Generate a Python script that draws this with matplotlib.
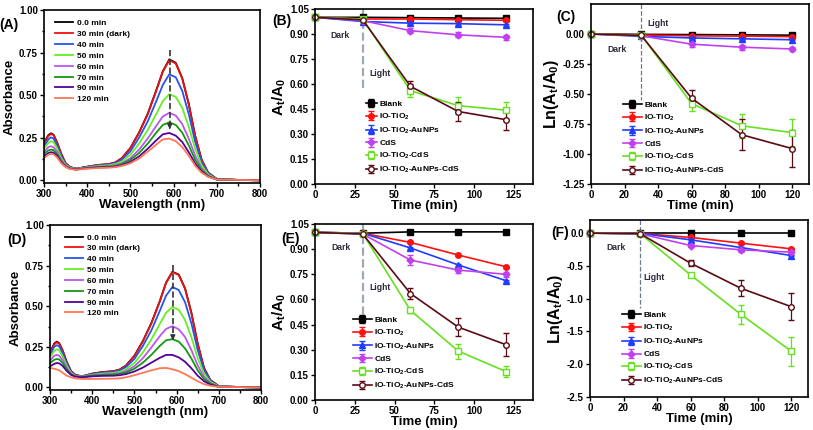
"""Photocatalytic degradation figure: absorption spectra (A, D),
A_t/A_0 vs time (B, E) and Ln(A_t/A_0) vs time (C, F)
"""

import matplotlib.pyplot as plt

plt.rcParams['font.family'] = ['Liberation Sans', 'DejaVu Sans']
plt.rcParams['font.weight'] = 'bold'
plt.rcParams['axes.labelweight'] = 'bold'
plt.rcParams['axes.unicode_minus'] = False
plt.rcParams['mathtext.fontset'] = 'custom'
plt.rcParams['mathtext.rm'] = 'Liberation Sans:bold'
plt.rcParams['mathtext.it'] = 'Liberation Sans:bold'
plt.rcParams['mathtext.bf'] = 'Liberation Sans:bold'

W, H = 813, 430

# ---- spectra (A) and (D) ----
wl = [300, 310, 316, 322, 330, 340, 350, 360, 375, 400, 425, 450, 465, 480, 500,
      520, 540, 560, 575, 590, 605, 620, 635, 650, 665, 680, 700, 750, 800]
spec_labels = ['0.0 min', '30 min (dark)', '40 min', '50 min', '60 min',
               '70 min', '90 min', '120 min']
spec_colors = ['#000000', '#ee1111', '#2255ee', '#66ee22', '#bb55ee',
               '#119911', '#550099', '#ff7755']

a_00 = [0.22, 0.265, 0.276, 0.268, 0.225, 0.155, 0.10, 0.078, 0.068, 0.08, 0.09, 0.095, 0.105, 0.13, 0.19,
        0.28, 0.39, 0.53, 0.64, 0.71, 0.69, 0.60, 0.45, 0.26, 0.12, 0.045, 0.008, 0.002, 0.0]
a_30 = [0.215, 0.26, 0.272, 0.265, 0.222, 0.152, 0.10, 0.077, 0.068, 0.08, 0.09, 0.095, 0.104, 0.128, 0.188,
        0.278, 0.387, 0.527, 0.637, 0.705, 0.686, 0.597, 0.447, 0.258, 0.118, 0.044, 0.008, 0.002, 0.0]
a_40 = [0.2, 0.24, 0.252, 0.245, 0.205, 0.14, 0.095, 0.075, 0.067, 0.078, 0.087, 0.092, 0.1, 0.12, 0.17,
        0.25, 0.345, 0.465, 0.56, 0.622, 0.605, 0.525, 0.39, 0.225, 0.105, 0.04, 0.007, 0.002, 0.0]
a_50 = [0.185, 0.22, 0.23, 0.224, 0.19, 0.13, 0.09, 0.073, 0.066, 0.076, 0.084, 0.088, 0.095, 0.11, 0.15,
        0.215, 0.295, 0.39, 0.465, 0.505, 0.49, 0.425, 0.315, 0.185, 0.088, 0.035, 0.006, 0.002, 0.0]
a_60 = [0.165, 0.195, 0.2, 0.195, 0.17, 0.12, 0.085, 0.07, 0.065, 0.074, 0.08, 0.083, 0.088, 0.1, 0.13,
        0.18, 0.245, 0.32, 0.375, 0.396, 0.38, 0.33, 0.245, 0.145, 0.07, 0.028, 0.005, 0.002, 0.0]
a_70 = [0.155, 0.175, 0.18, 0.177, 0.155, 0.112, 0.082, 0.069, 0.064, 0.072, 0.078, 0.08, 0.084, 0.094, 0.12,
        0.16, 0.215, 0.28, 0.325, 0.34, 0.325, 0.28, 0.205, 0.12, 0.06, 0.025, 0.005, 0.002, 0.0]
a_90 = [0.14, 0.16, 0.165, 0.162, 0.145, 0.105, 0.08, 0.068, 0.063, 0.07, 0.075, 0.077, 0.08, 0.088, 0.108,
        0.14, 0.185, 0.235, 0.27, 0.278, 0.262, 0.225, 0.165, 0.098, 0.05, 0.022, 0.004, 0.002, 0.0]
a_120 = [0.13, 0.15, 0.155, 0.152, 0.135, 0.1, 0.078, 0.066, 0.062, 0.068, 0.072, 0.074, 0.077, 0.084, 0.1,
         0.128, 0.168, 0.21, 0.24, 0.245, 0.23, 0.195, 0.145, 0.085, 0.044, 0.02, 0.004, 0.002, 0.0]

d_00 = [0.215, 0.27, 0.282, 0.272, 0.228, 0.155, 0.10, 0.078, 0.068, 0.085, 0.095, 0.1, 0.11, 0.135, 0.195,
        0.285, 0.395, 0.53, 0.645, 0.712, 0.695, 0.61, 0.46, 0.27, 0.12, 0.045, 0.008, 0.002, 0.0]
d_30 = [0.21, 0.265, 0.278, 0.268, 0.225, 0.153, 0.099, 0.077, 0.068, 0.084, 0.094, 0.099, 0.109, 0.133, 0.193,
        0.283, 0.393, 0.528, 0.643, 0.71, 0.693, 0.608, 0.458, 0.268, 0.118, 0.044, 0.008, 0.002, 0.0]
d_40 = [0.2, 0.25, 0.26, 0.252, 0.21, 0.145, 0.095, 0.075, 0.067, 0.082, 0.09, 0.095, 0.104, 0.125, 0.175,
        0.255, 0.35, 0.47, 0.565, 0.618, 0.6, 0.525, 0.395, 0.23, 0.105, 0.04, 0.007, 0.002, 0.0]
d_50 = [0.185, 0.225, 0.235, 0.228, 0.19, 0.132, 0.09, 0.072, 0.066, 0.078, 0.085, 0.089, 0.096, 0.112, 0.15,
        0.215, 0.295, 0.39, 0.46, 0.495, 0.478, 0.415, 0.31, 0.18, 0.085, 0.034, 0.006, 0.002, 0.0]
d_60 = [0.165, 0.195, 0.2, 0.195, 0.168, 0.12, 0.085, 0.07, 0.065, 0.075, 0.08, 0.083, 0.088, 0.1, 0.13,
        0.18, 0.245, 0.315, 0.36, 0.377, 0.358, 0.31, 0.23, 0.135, 0.065, 0.027, 0.005, 0.002, 0.0]
d_70 = [0.15, 0.17, 0.175, 0.172, 0.15, 0.11, 0.08, 0.068, 0.064, 0.072, 0.077, 0.079, 0.083, 0.092, 0.115,
        0.152, 0.2, 0.255, 0.29, 0.297, 0.282, 0.24, 0.178, 0.105, 0.052, 0.023, 0.004, 0.002, 0.0]
d_90 = [0.13, 0.145, 0.15, 0.148, 0.132, 0.1, 0.077, 0.066, 0.062, 0.068, 0.071, 0.072, 0.075, 0.082, 0.098,
        0.122, 0.152, 0.182, 0.2, 0.2, 0.185, 0.158, 0.118, 0.072, 0.038, 0.017, 0.003, 0.002, 0.0]
d_120 = [0.12, 0.115, 0.11, 0.105, 0.09, 0.072, 0.062, 0.056, 0.052, 0.052, 0.053, 0.054, 0.056, 0.062, 0.075,
         0.09, 0.105, 0.118, 0.12, 0.112, 0.1, 0.082, 0.06, 0.038, 0.02, 0.01, 0.003, 0.002, 0.0]

spectra_a = [a_00, a_30, a_40, a_50, a_60, a_70, a_90, a_120]
spectra_d = [d_00, d_30, d_40, d_50, d_60, d_70, d_90, d_120]

# ---- kinetics (B, C, E, F) ----
times = [0, 30, 60, 90, 120]
samples = ['Blank', 'IO-TiO$_2$', 'IO-TiO$_2$-AuNPs', 'CdS', 'IO-TiO$_2$-CdS',
           'IO-TiO$_2$-AuNPs-CdS']
colors = ['#000000', '#ff1111', '#1f3cff', '#c040f0', '#66e020', '#5a0a14']
markers = ['s', 'o', '^', 'D', 's', 'o']
filled = [True, True, True, True, False, False]

b_vals = [[1.0, 1.0, 0.998, 0.996, 0.994],
          [1.0, 0.99, 0.99, 0.986, 0.982],
          [1.0, 0.975, 0.965, 0.962, 0.955],
          [1.0, 0.98, 0.92, 0.895, 0.88],
          [1.0, 0.99, 0.56, 0.47, 0.443],
          [1.0, 0.985, 0.586, 0.435, 0.386]]
b_err = [[0, 0.005, 0.006, 0.006, 0.006],
         [0, 0.005, 0.006, 0.006, 0.006],
         [0, 0.005, 0.006, 0.006, 0.006],
         [0, 0.005, 0.015, 0.015, 0.015],
         [0, 0.01, 0.04, 0.05, 0.05],
         [0, 0.01, 0.035, 0.055, 0.06]]

c_vals = [[0, -0.003, -0.005, -0.007, -0.01],
          [0, -0.008, -0.015, -0.018, -0.022],
          [0, -0.02, -0.033, -0.04, -0.048],
          [0, -0.015, -0.085, -0.11, -0.125],
          [0, -0.01, -0.58, -0.765, -0.822],
          [0, -0.012, -0.535, -0.84, -0.955]]
c_err = [[0, 0.005, 0.006, 0.006, 0.006],
         [0, 0.005, 0.006, 0.006, 0.006],
         [0, 0.005, 0.006, 0.006, 0.006],
         [0, 0.01, 0.02, 0.02, 0.02],
         [0, 0.02, 0.065, 0.1, 0.115],
         [0, 0.02, 0.065, 0.13, 0.155]]

e_vals = [[1.0, 0.995, 1.003, 1.003, 1.003],
          [1.0, 0.995, 0.94, 0.865, 0.795],
          [1.0, 0.995, 0.907, 0.806, 0.712],
          [1.0, 0.99, 0.835, 0.775, 0.75],
          [1.0, 0.993, 0.535, 0.292, 0.17],
          [1.0, 0.99, 0.635, 0.435, 0.33]]
e_err = [[0, 0.004, 0.004, 0.004, 0.004],
         [0, 0.004, 0.006, 0.006, 0.006],
         [0, 0.004, 0.006, 0.006, 0.006],
         [0, 0.005, 0.03, 0.02, 0.015],
         [0, 0.005, 0.015, 0.045, 0.035],
         [0, 0.008, 0.035, 0.055, 0.07]]

f_vals = [[0, 0, 0, 0, 0],
          [0, -0.005, -0.066, -0.153, -0.24],
          [0, -0.005, -0.102, -0.22, -0.342],
          [0, -0.01, -0.189, -0.255, -0.29],
          [0, -0.01, -0.638, -1.24, -1.8],
          [0, -0.01, -0.459, -0.842, -1.122]]
f_err = [[0, 0.005, 0.005, 0.005, 0.005],
         [0, 0.005, 0.01, 0.01, 0.01],
         [0, 0.005, 0.01, 0.01, 0.01],
         [0, 0.01, 0.03, 0.03, 0.03],
         [0, 0.01, 0.02, 0.15, 0.22],
         [0, 0.01, 0.05, 0.12, 0.21]]


fig = plt.figure(figsize=(W / 100, H / 100), dpi=100)


def add_ax(x0, y0, x1, y1):
    # pixel box of the reference -> figure fraction
    ax = fig.add_axes([x0 / W, 1 - y1 / H, (x1 - x0) / W, (y1 - y0) / H])
    for s in ax.spines.values():
        s.set_linewidth(1.2)
    ax.tick_params(which='both', direction='out', top=False, right=False,
                   labelsize=7, width=1, pad=1.5)
    ax.tick_params(which='major', length=3)
    ax.tick_params(which='minor', length=1.8)
    return ax


def plot_spectra(ax, spectra, arrow_top, arrow_end, legend_xy):
    for vals, lab, col in zip(spectra, spec_labels, spec_colors):
        ax.plot(wl, vals, color=col, lw=1.3, label=lab)
    ax.plot([591, 591], [arrow_top, arrow_end + 0.02], ls='--', color='#333333', lw=1.2)
    ax.annotate('', xy=(591, arrow_end), xytext=(591, arrow_end + 0.03),
                arrowprops=dict(arrowstyle='-|>', color='#333333', lw=1, mutation_scale=7))
    ax.set_xlim(300, 800)
    ax.set_ylim(-0.016, 1.0)
    ax.set_xticks([300, 400, 500, 600, 700, 800])
    ax.set_xticks([350, 450, 550, 650, 750], minor=True)
    ax.set_yticks([0, 0.25, 0.5, 0.75, 1.0])
    ax.set_yticks([0.125, 0.375, 0.625, 0.875], minor=True)
    ax.yaxis.set_major_formatter(plt.FormatStrFormatter('%.2f'))
    ax.set_xlabel('Wavelength (nm)', fontsize=9.5, labelpad=0)
    ax.set_ylabel('Absorbance', fontsize=9.5, labelpad=2)
    ax.legend(loc='upper left', bbox_to_anchor=legend_xy, frameon=False, fontsize=6,
              handlelength=2.2, handletextpad=0.4, labelspacing=0.36,
              borderpad=0, borderaxespad=0)


def plot_kinetics(ax, vals, errs, line_to, vline_style, legend_xy, hlen):
    for y, e, lab, col, m, f in zip(vals, errs, samples, colors, markers, filled):
        ax.errorbar(times, y, yerr=e, color=col, lw=1.2, marker=m, ms=4 if m != 'D' else 3.5,
                    mfc=col if f else 'white', mec=col, mew=1, capsize=2, elinewidth=0.9,
                    capthick=0.9, label=lab, clip_on=False)
    ylo, yhi = ax.get_ylim()
    ax.plot([30, 30], [yhi, line_to], ls='--', zorder=0, **vline_style)
    ax.set_ylim(ylo, yhi)
    ax.set_xlabel('Time (min)', fontsize=9.5, labelpad=0)
    handles, labels = ax.get_legend_handles_labels()
    ax.legend(handles, labels, loc='upper left', bbox_to_anchor=legend_xy, frameon=False,
              fontsize=6, handlelength=hlen, handletextpad=0.3, labelspacing=0.45,
              borderpad=0, borderaxespad=0)


def setup_ratio(ax):
    ax.set_xlim(0, 137)
    ax.set_ylim(0, 1.05)
    ax.set_xticks([0, 25, 50, 75, 100, 125])
    ax.set_yticks([0, 0.15, 0.3, 0.45, 0.6, 0.75, 0.9, 1.05])
    ax.yaxis.set_major_formatter(plt.FormatStrFormatter('%.2f'))
    ax.set_ylabel('A$_t$/A$_0$', fontsize=11, labelpad=1)


light_line = dict(color='#a0a8b8', lw=1.6)
thin_line = dict(color='#6a7890', lw=0.9)
note = dict(fontsize=6.2, fontweight='bold', color='#2a2a3a', ha='center', va='center')
panel = dict(fontsize=10, fontweight='bold', ha='center', va='center')

# (A)
ax = add_ax(44, 10, 260, 183)
plot_spectra(ax, spectra_a, 0.767, 0.30, (0.051, 0.945))
fig.text(9 / W, 1 - 25 / H, '(A)', **panel)

# (D)
ax = add_ax(50, 225, 261, 390)
plot_spectra(ax, spectra_d, 0.753, 0.29, (0.071, 0.947))
fig.text(17 / W, 1 - 240 / H, '(D)', **panel)

# (B)
ax = add_ax(315, 9, 533, 184)
setup_ratio(ax)
plot_kinetics(ax, b_vals, b_err, 0.567, light_line, (0.234, 0.48), 1.3)
fig.text(340 / W, 1 - 36 / H, 'Dark', **note)
fig.text(380 / W, 1 - 74 / H, 'Light', **note)
fig.text(282 / W, 1 - 21 / H, '(B)', **panel)

# (E)
ax = add_ax(315, 224, 533, 400)
setup_ratio(ax)
plot_kinetics(ax, e_vals, e_err, 0.51, light_line, (0.173, 0.478), 2.3)
fig.text(341 / W, 1 - 247 / H, 'Dark', **note)
fig.text(380 / W, 1 - 288 / H, 'Light', **note)
fig.text(290 / W, 1 - 239 / H, '(E)', **panel)

# (C)
ax = add_ax(591, 4, 809, 184)
ax.set_xlim(0, 130)
ax.set_ylim(-1.25, 0.25)
ax.set_xticks([0, 20, 40, 60, 80, 100, 120])
ax.set_yticks([0, -0.25, -0.5, -0.75, -1.0, -1.25])
ax.yaxis.set_major_formatter(plt.FormatStrFormatter('%.2f'))
ax.set_ylabel('Ln(A$_t$/A$_0$)', fontsize=11.5, labelpad=1)
plot_kinetics(ax, c_vals, c_err, -0.55, thin_line, (0.145, 0.462), 2.3)
fig.text(617 / W, 1 - 49 / H, 'Dark', **note)
fig.text(658 / W, 1 - 24 / H, 'Light', **note)
fig.text(566 / W, 1 - 17 / H, '(C)', **panel)

# (F)
ax = add_ax(590, 220, 808, 397)
ax.set_xlim(0, 130)
ax.set_ylim(-2.5, 0.2)
ax.set_xticks([0, 20, 40, 60, 80, 100, 120])
ax.set_yticks([0, -0.5, -1.0, -1.5, -2.0, -2.5])
ax.yaxis.set_major_formatter(plt.FormatStrFormatter('%.1f'))
ax.set_ylabel('Ln(A$_t$/A$_0$)', fontsize=11.5, labelpad=1)
plot_kinetics(ax, f_vals, f_err, -1.14, thin_line, (0.145, 0.485), 2.3)
fig.text(616 / W, 1 - 247 / H, 'Dark', **note)
fig.text(654 / W, 1 - 278 / H, 'Light', **note)
fig.text(560 / W, 1 - 233 / H, '(F)', **panel)

plt.savefig('out.png', dpi=100)
